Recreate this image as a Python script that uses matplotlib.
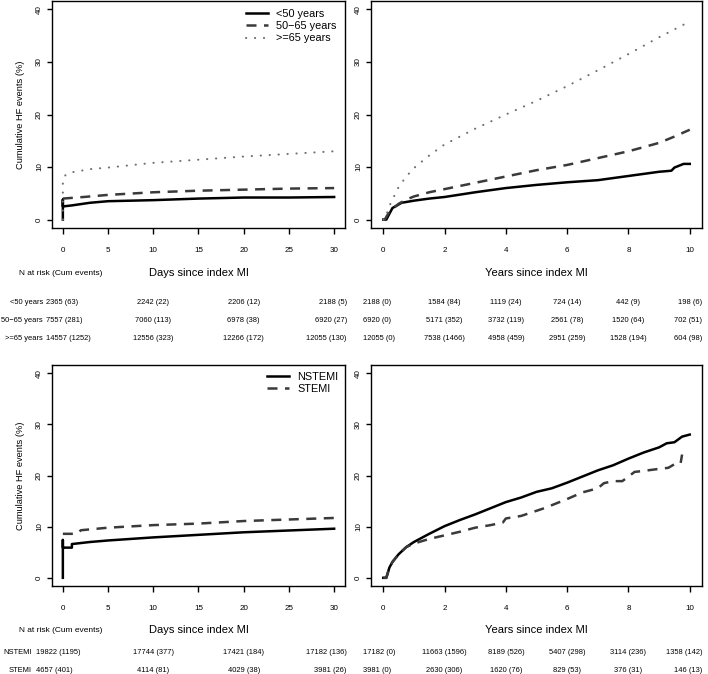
import matplotlib
matplotlib.use("Agg")
from matplotlib import pyplot as plt
from matplotlib import transforms
import numpy as np

plt.rcParams['font.family'] = ['Liberation Sans', 'DejaVu Sans']

# ---- data ----
# age groups, first 30 days
d_lt50 = [0, 0, 0, 1, 3, 5, 10, 15, 20, 25, 30]
v_lt50 = [0, 3.8, 2.5, 2.7, 3.2, 3.5, 3.7, 4.0, 4.2, 4.2, 4.3]
d_mid = [0, 2.3, 5, 10, 15, 20, 25, 30]
v_mid = [4.0, 4.3, 4.7, 5.2, 5.5, 5.7, 5.9, 6.0]
d_old = [0, 0, 0.3, 1, 3, 5, 10, 15, 20, 25, 30]
v_old = [0, 7.6, 8.5, 9.0, 9.6, 9.9, 10.8, 11.4, 12.0, 12.5, 13.0]

# age groups, 10 years
y_lt50 = [0, 0.1, 0.3, 0.6, 1, 1.5, 2, 3, 4, 5, 6, 7, 8, 9, 9.4, 9.5, 9.8, 10]
w_lt50 = [0, 0, 2.2, 3.2, 3.6, 4.0, 4.3, 5.2, 6.0, 6.6, 7.1, 7.5, 8.3, 9.1, 9.3, 9.9, 10.6, 10.6]
y_mid = [0, 0.05, 0.2, 0.5, 0.75, 1, 1.5, 2, 3, 4, 5, 6, 7, 8, 9, 9.5, 10]
w_mid = [0, 0, 1.5, 3.0, 3.8, 4.4, 5.2, 5.8, 7.0, 8.2, 9.4, 10.4, 11.7, 13.0, 14.6, 15.8, 17.1]
y_old = [0, 0.05, 0.2, 0.5, 0.75, 1, 1.5, 2, 3, 4, 5, 6, 7, 8, 9, 10]
w_old = [0, 0, 2.6, 6.2, 8.2, 9.8, 12.2, 14.3, 17.3, 20.0, 22.6, 25.4, 28.4, 31.5, 34.7, 37.7]

# MI type, first 30 days
d_nst = [0, 0, 0, 1, 1, 3, 5, 10, 15, 20, 25, 30]
v_nst = [0, 7.4, 5.9, 5.9, 6.6, 7.0, 7.3, 7.9, 8.4, 8.9, 9.25, 9.6]
d_st = [0, 1.5, 2, 5, 10, 15, 20, 25, 30]
v_st = [8.6, 8.6, 9.3, 9.8, 10.3, 10.6, 11.1, 11.4, 11.7]

# MI type, 10 years
y_nst = [0, 0.1, 0.2, 0.3, 0.5, 0.75, 1, 1.5, 2, 2.5, 3, 3.5, 4, 4.5, 5, 5.5, 6, 6.5,
         7, 7.5, 8, 8.5, 9, 9.25, 9.5, 9.75, 10]
w_nst = [0, 0, 2.0, 3.1, 4.6, 6.0, 7.0, 8.6, 10.1, 11.3, 12.4, 13.6, 14.8, 15.7, 16.8,
         17.5, 18.6, 19.8, 21.0, 22.0, 23.3, 24.5, 25.5, 26.3, 26.5, 27.6, 28.0]
y_st = [0, 0.1, 0.2, 0.3, 0.5, 0.75, 1, 1.5, 2, 2.5, 3, 3.5, 3.9, 4, 4.5, 5, 5.2, 5.5,
        6, 6.5, 7, 7.2, 7.5, 7.8, 8, 8.2, 8.5, 9, 9.3, 9.5, 9.7, 9.75]
w_st = [0, 0, 2.0, 3.1, 4.6, 6.0, 6.7, 7.6, 8.3, 9.0, 9.8, 10.3, 10.8, 11.6, 12.1, 13.1,
        13.5, 14.2, 15.4, 16.7, 17.5, 18.5, 18.9, 18.9, 19.8, 20.7, 20.9, 21.3, 21.5,
        22.2, 22.3, 24.1]

# numbers at risk tables
age_groups = ['<50 years', '50\u221265 years', '>=65 years']
risk_age_days = [['2365 (63)', '2242 (22)', '2206 (12)', '2188 (5)'],
                 ['7557 (281)', '7060 (113)', '6978 (38)', '6920 (27)'],
                 ['14557 (1252)', '12556 (323)', '12266 (172)', '12055 (130)']]
risk_age_years = [['2188 (0)', '1584 (84)', '1119 (24)', '724 (14)', '442 (9)', '198 (6)'],
                  ['6920 (0)', '5171 (352)', '3732 (119)', '2561 (78)', '1520 (64)', '702 (51)'],
                  ['12055 (0)', '7538 (1466)', '4958 (459)', '2951 (259)', '1528 (194)', '604 (98)']]
mi_types = ['NSTEMI', 'STEMI']
risk_mi_days = [['19822 (1195)', '17744 (377)', '17421 (184)', '17182 (136)'],
                ['4657 (401)', '4114 (81)', '4029 (38)', '3981 (26)']]
risk_mi_years = [['17182 (0)', '11663 (1596)', '8189 (526)', '5407 (298)', '3114 (236)', '1358 (142)'],
                 ['3981 (0)', '2630 (306)', '1620 (76)', '829 (53)', '376 (31)', '146 (13)']]

day_cols = [-2, 10, 20, 31.4]
day_ha = ['left', 'center', 'center', 'right']
year_cols = [-0.65, 2, 4, 6, 8, 10.4]
year_ha = ['left', 'center', 'center', 'center', 'center', 'right']

# ---- figure ----
W, H = 708, 674
fig = plt.figure(figsize=(W / 100, H / 100), dpi=100)

def px_axes(x0, y0, x1, y1):
    return fig.add_axes([x0 / W, 1 - y1 / H, (x1 - x0) / W, (y1 - y0) / H])

solid = dict(color='black', lw=1.8, ls='-')
dashed = dict(color='#3a3a3a', lw=1.8, ls=(0, (4, 3)))
dotted = dict(color='#707070', lw=1.5, ls=(0, (0.1, 4.2)), dash_capstyle='round')

def style(ax, xmax, xticks, ylabel=False):
    ax.set_ylim(-1.6, 41.6)
    ax.set_xlim(-0.04 * xmax, 1.04 * xmax)
    ax.set_yticks([0, 10, 20, 30, 40])
    ax.set_xticks(xticks)
    for s in ax.spines.values():
        s.set_linewidth(1.0)
    ax.tick_params(axis='x', length=4.5, width=1, pad=9, labelsize=5.8)
    ax.tick_params(axis='y', length=3.5, width=1, pad=3, labelsize=5.8)
    for lab in ax.get_yticklabels():
        lab.set_rotation(90)
        lab.set_va('center')
    if ylabel:
        ax.set_ylabel('Cumulative HF events (%)', fontsize=6.7, labelpad=8)

def table(ax, rows, names, cols, has, ys, name_x, first_x=None):
    tr = transforms.blended_transform_factory(ax.transData, fig.transFigure)
    for r, yy in enumerate(ys):
        for c, txt in enumerate(rows[r]):
            x, ha = cols[c], has[c]
            if first_x is not None and c == 0:
                fig.text(first_x / W, 1 - yy / H, txt, ha='left', va='center', fontsize=5.4)
            else:
                fig.text(x, 1 - yy / H, txt, transform=tr, ha=ha, va='center', fontsize=5.4)
        if names is not None:
            fig.text(name_x / W, 1 - yy / H, names[r], ha='right', va='center', fontsize=5.4)

# top left
ax1 = px_axes(52, 1, 345, 228)
ax1.plot(d_lt50, v_lt50, label='<50 years', **solid)
ax1.plot(d_mid, v_mid, label='50\u221265 years', **dashed)
ax1.plot(d_old, v_old, label='>=65 years', **dotted)
style(ax1, 30, [0, 5, 10, 15, 20, 25, 30], ylabel=True)
ax1.legend(loc='upper right', frameon=False, fontsize=7.8, handlelength=2.0,
           handletextpad=0.8, labelspacing=0.2, borderaxespad=0.35)

# top right
ax2 = px_axes(371, 1, 702, 228)
ax2.plot(y_lt50, w_lt50, **solid)
ax2.plot(y_mid, w_mid, **dashed)
ax2.plot(y_old, w_old, **dotted)
style(ax2, 10, [0, 2, 4, 6, 8, 10])

# bottom left
ax3 = px_axes(52, 365, 345, 586)
ax3.plot(d_nst, v_nst, label='NSTEMI', **solid)
ax3.plot(d_st, v_st, label='STEMI', **dashed)
style(ax3, 30, [0, 5, 10, 15, 20, 25, 30], ylabel=True)
ax3.legend(loc='upper right', frameon=False, fontsize=7.8, handlelength=2.0,
           handletextpad=0.8, labelspacing=0.2, borderaxespad=0.2)

# bottom right
ax4 = px_axes(371, 365, 702, 586)
ax4.plot(y_nst, w_nst, **solid)
ax4.plot(y_st, w_st, **dashed)
style(ax4, 10, [0, 2, 4, 6, 8, 10])

# axis titles and tables
for yy, axl, axr in [(273, ax1, ax2), (630, ax3, ax4)]:
    fig.text(61 / W, 1 - yy / H, 'N at risk (Cum events)', ha='center', va='center', fontsize=6)
    tr = transforms.blended_transform_factory(axl.transAxes, fig.transFigure)
    fig.text(0.5, 1 - yy / H, 'Days since index MI', transform=tr, ha='center', va='center', fontsize=8)
    tr = transforms.blended_transform_factory(axr.transAxes, fig.transFigure)
    fig.text(0.5, 1 - yy / H, 'Years since index MI', transform=tr, ha='center', va='center', fontsize=8)

top_rows = [302, 320, 338]
table(ax1, risk_age_days, age_groups, day_cols, day_ha, top_rows, 43, first_x=46)
table(ax2, risk_age_years, None, year_cols, year_ha, top_rows, 0)
bot_rows = [653, 670]
table(ax3, risk_mi_days, mi_types, day_cols, day_ha, bot_rows, 32, first_x=36)
table(ax4, risk_mi_years, None, year_cols, year_ha, bot_rows, 0)

fig.savefig('out.png', dpi=100)
